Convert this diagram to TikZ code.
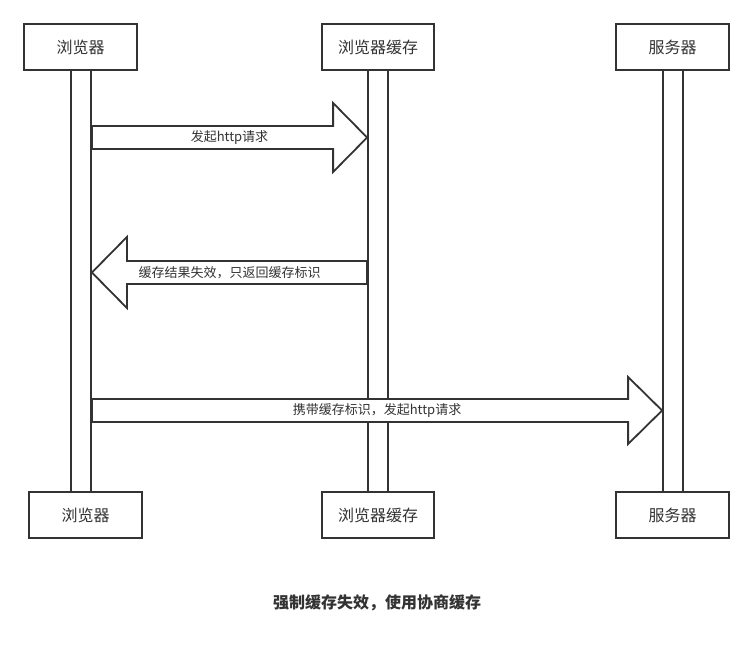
\documentclass[tikz,border=0pt]{standalone}
\usepackage{fontspec}
\newfontfamily\cjk{Noto Sans CJK SC}
\usetikzlibrary{calc}
\definecolor{ink}{HTML}{333333}
\begin{document}
\begin{tikzpicture}[x=1pt,y=-1pt,
  actor/.style={draw=ink, line width=1.8pt, fill=white, minimum width=113pt, minimum height=46pt, inner sep=0pt, font=\cjk\fontsize{16}{16}\selectfont, text=ink},
  life/.style={draw=ink, line width=1.8pt, fill=white, minimum width=20pt, minimum height=422pt, inner sep=0pt},
  msg/.style={draw=ink, line width=1.8pt, fill=white, line join=miter},
  lbl/.style={font=\cjk\fontsize{13}{13}\selectfont, text=ink, inner sep=0pt},
  ttl/.style={font=\cjk\bfseries\fontsize{16}{16}\selectfont, text=ink, inner sep=0pt}]
\useasboundingbox (0,0) rectangle (754,651);
% lifelines
\node[life] (la) at (81,281) {};
\node[life] (lb) at (378,281) {};
\node[life] (lc) at (673,281) {};
% message 1: browser -> cache
\coordinate (m1s) at (la.east |- 0,137.5);
\coordinate (m1t) at (lb.west |- 0,137.5);
\draw[msg] ($(m1s)+(0,-11.5)$) -- ($(m1t)+(-34,-11.5)$) -- ($(m1t)+(-34,-34.5)$) -- (m1t)
  -- ($(m1t)+(-34,34.5)$) -- ($(m1t)+(-34,11.5)$) -- ($(m1s)+(0,11.5)$) -- cycle;
\node[lbl] (l1) at ($(m1s)!0.5!(m1t)$) {发起http请求};
% message 2: cache -> browser
\coordinate (m2s) at (lb.west |- 0,272.5);
\coordinate (m2t) at (la.east |- 0,272.5);
\draw[msg] ($(m2s)+(0,-11.5)$) -- ($(m2t)+(35,-11.5)$) -- ($(m2t)+(35,-35.5)$) -- (m2t)
  -- ($(m2t)+(35,35.5)$) -- ($(m2t)+(35,11.5)$) -- ($(m2s)+(0,11.5)$) -- cycle;
\node[lbl] (l2) at ($(m2s)!0.5!(m2t)$) {缓存结果失效，只返回缓存标识};
% message 3: browser -> server
\coordinate (m3s) at (la.east |- 0,410.5);
\coordinate (m3t) at (lc.west |- 0,410.5);
\draw[msg] ($(m3s)+(0,-11.5)$) -- ($(m3t)+(-34,-11.5)$) -- ($(m3t)+(-34,-33.5)$) -- (m3t)
  -- ($(m3t)+(-34,33.5)$) -- ($(m3t)+(-34,11.5)$) -- ($(m3s)+(0,11.5)$) -- cycle;
\node[lbl] (l3) at ($(m3s)!0.5!(m3t)$) {携带缓存标识，发起http请求};
% actor boxes
\node[actor] (bt) at (80.5,47) {浏览器};
\node[actor, minimum width=112pt] (ct) at (378,47) {浏览器缓存};
\node[actor] (st) at (672.5,47) {服务器};
\node[actor] (bb) at (85.5,515) {浏览器};
\node[actor, minimum width=112pt] (cb) at (378,515) {浏览器缓存};
\node[actor] (sb) at (672.5,515) {服务器};
% caption
\node[ttl] (title) at (377,603) {强制缓存失效，使用协商缓存};
\end{tikzpicture}
\end{document}
